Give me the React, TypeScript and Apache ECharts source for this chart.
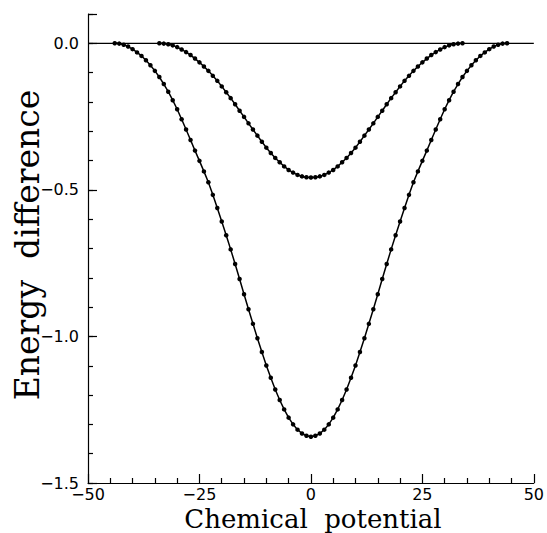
import { useEffect, useRef } from "react";
import * as echarts from "echarts";

// x positions of the computed points (integer chemical potentials)
const wideX: number[] = Array.from({ length: 89 }, (_, i) => i - 44);
const wideY: number[] = [
  0, -0.001, -0.005, -0.011, -0.02, -0.031, -0.043, -0.058, -0.075, -0.094,
  -0.115, -0.139, -0.165, -0.194, -0.225, -0.259, -0.294, -0.33, -0.366, -0.401,
  -0.437, -0.474, -0.517, -0.562, -0.608, -0.655, -0.703, -0.753, -0.804, -0.856,
  -0.907, -0.957, -1.006, -1.053, -1.099, -1.141, -1.181, -1.217, -1.249, -1.277,
  -1.3, -1.318, -1.331, -1.339, -1.342, -1.339, -1.331, -1.318, -1.3,
  -1.277, -1.249, -1.217, -1.181, -1.141, -1.099, -1.053, -1.006, -0.957, -0.907,
  -0.856, -0.804, -0.753, -0.703, -0.655, -0.608, -0.562, -0.517, -0.474, -0.437,
  -0.401, -0.366, -0.33, -0.294, -0.259, -0.225, -0.194, -0.165, -0.139, -0.115,
  -0.094, -0.075, -0.058, -0.043, -0.031, -0.02, -0.011, -0.005, -0.001, 0,
];

const narrowX: number[] = Array.from({ length: 69 }, (_, i) => i - 34);
const narrowY: number[] = [
  0, -0.001, -0.003, -0.007, -0.013, -0.021, -0.03, -0.04, -0.052, -0.065,
  -0.079, -0.094, -0.111, -0.128, -0.147, -0.167, -0.187, -0.208, -0.23, -0.251,
  -0.273, -0.294, -0.315, -0.336, -0.356, -0.374, -0.391, -0.406, -0.42, -0.432,
  -0.441, -0.449, -0.454, -0.457, -0.458, -0.457, -0.454, -0.449, -0.441,
  -0.432, -0.42, -0.406, -0.391, -0.374, -0.356, -0.336, -0.315, -0.294, -0.273,
  -0.251, -0.23, -0.208, -0.187, -0.167, -0.147, -0.128, -0.111, -0.094, -0.079,
  -0.065, -0.052, -0.04, -0.03, -0.021, -0.013, -0.007, -0.003, -0.001, 0,
];

const baseX: number[] = [-50, 50];
const baseY: number[] = [0, 0];

const xLabelValues: number[] = [-50, -25, 0, 25, 50];
const yLabelValues: number[] = [0, -0.5, -1.0, -1.5];

const xTitle = "Chemical  potential";
const yTitle = "Energy  difference";

const fmtNum = (v: number, d: number) =>
  (v < -1e-9 ? "\u2212" : "") + Math.abs(v).toFixed(d);

export default function App() {
  const ref = useRef<HTMLDivElement>(null);
  useEffect(() => {
    const chart = echarts.init(ref.current!, null, { renderer: "svg" });
    const black = { color: "#000", width: 1.2 };
    const labelFont = {
      color: "#000",
      fontFamily: "DejaVu Sans",
      fontSize: 16,
      lineHeight: 12,
    };
    chart.setOption({
      animation: false,
      backgroundColor: "#fff",
      grid: { left: 88, right: 12, top: 14, bottom: 50, containLabel: false },
      xAxis: {
        type: "value",
        min: -50,
        max: 50,
        interval: 25,
        axisLine: { onZero: false, lineStyle: black },
        axisTick: { inside: true, length: 9, lineStyle: black },
        minorTick: { show: true, splitNumber: 5, length: 5, lineStyle: black },
        splitLine: { show: false },
        minorSplitLine: { show: false },
        axisLabel: {
          ...labelFont,
          margin: 5,
          formatter: (v: number) =>
            xLabelValues.some((t) => Math.abs(t - v) < 1e-6) ? fmtNum(v, 0) : "",
        },
      },
      yAxis: [
        {
          type: "value",
          position: "left",
          min: -1.5,
          max: 0.1,
          interval: 0.1,
          axisLine: { onZero: false, lineStyle: black },
          axisTick: { inside: true, length: 5, lineStyle: black },
          splitLine: { show: false },
          axisLabel: {
            ...labelFont,
            margin: 9,
            interval: 0,
            formatter: (v: number) =>
              yLabelValues.some((t) => Math.abs(t - v) < 1e-6) ? fmtNum(v, 1) : "",
          },
        },
        {
          type: "value",
          position: "left",
          min: -1.5,
          max: 0.1,
          interval: 0.5,
          axisLine: { show: false, onZero: false },
          axisTick: { inside: true, length: 9, lineStyle: black },
          splitLine: { show: false },
          axisLabel: { show: false },
        },
      ],
      graphic: [
        {
          type: "text",
          x: 313,
          y: 519,
          style: {
            text: xTitle,
            fontSize: 26,
            fontFamily: "DejaVu Serif",
            fill: "#000",
            align: "center",
            verticalAlign: "middle",
          },
        },
        {
          type: "text",
          x: 27,
          y: 245,
          rotation: Math.PI / 2,
          style: {
            text: yTitle,
            fontSize: 33,
            fontFamily: "DejaVu Serif",
            fill: "#000",
            align: "center",
            verticalAlign: "middle",
          },
        },
      ],
      series: [
        {
          type: "line",
          data: baseX.map((x, i) => [x, baseY[i]]),
          symbol: "none",
          lineStyle: { color: "#000", width: 1.2 },
          silent: true,
          z: 2,
        },
        {
          type: "line",
          data: wideX.map((x, i) => [x, wideY[i]]),
          symbol: "circle",
          symbolSize: 4.5,
          showAllSymbol: true,
          lineStyle: { color: "#000", width: 1.5 },
          itemStyle: { color: "#000" },
          z: 3,
        },
        {
          type: "line",
          data: narrowX.map((x, i) => [x, narrowY[i]]),
          symbol: "circle",
          symbolSize: 4.5,
          showAllSymbol: true,
          lineStyle: { color: "#000", width: 1.5 },
          itemStyle: { color: "#000" },
          z: 3,
        },
      ],
    });
    return () => chart.dispose();
  }, []);
  return (
    <div
      ref={ref}
      style={{ position: "fixed", left: 0, top: 0, width: 547, height: 533 }}
    />
  );
}
